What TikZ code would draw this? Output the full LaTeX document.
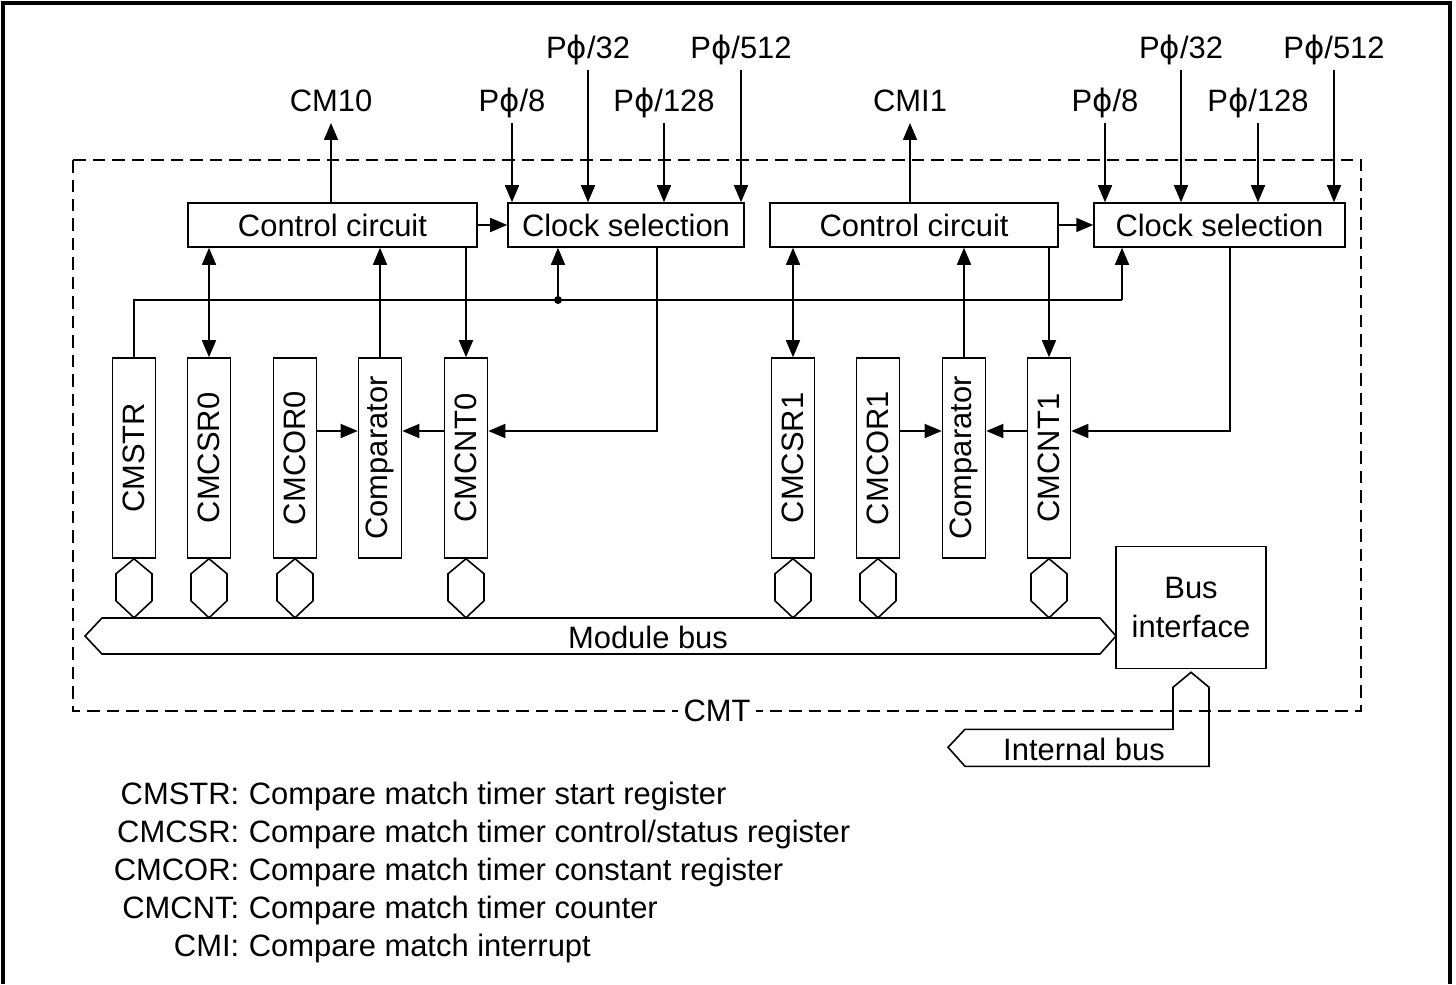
\documentclass[tikz,border=0pt]{standalone}
\usepackage{fontspec}
\setmainfont{Liberation Sans}
\newfontfamily\phifont{DejaVu Sans}
\usetikzlibrary{arrows.meta}
\newcommand{\Pphi}{P{\phifont ϕ}}

\begin{document}
\begin{tikzpicture}[
  x=0.02cm, y=-0.02cm,
  line width=0.9pt,
  every node/.style={font=\fontsize{17.6pt}{21pt}\selectfont, inner sep=0pt},
  blk/.style={draw, line width=0.9pt, minimum height=0.88cm},
  reg/.style={draw, line width=0.9pt, minimum width=0.86cm, minimum height=4cm},
  sig/.style={text height=0.44cm, text depth=0cm, outer ysep=0.24cm},
  arr/.style={-{Triangle[length=0.34cm,width=0.28cm]}},
  darr/.style={{Triangle[length=0.34cm,width=0.28cm]}-{Triangle[length=0.34cm,width=0.28cm]}}
]

  \useasboundingbox (0,0) rectangle (1456,984);

  % Marco exterior
  \draw[line width=2.8pt] (3,984) -- (3,3) -- (1450,3) -- (1450,984);

  % Bloque CMT
  \draw[dash pattern=on 0.25cm off 0.14cm] (73,160) rectangle (1361,711);
  \node[fill=white, inner xsep=0.12cm, inner ysep=0.05cm] (cmt) at (717,711) {CMT};

  % Circuitos de control y seleccion de reloj
  \node[blk, minimum width=5.78cm] (ctrl0) at (332.5,225) {Control circuit};
  \node[blk, minimum width=4.72cm] (clk0) at (626,225) {Clock selection};
  \node[blk, minimum width=5.76cm] (ctrl1) at (914,225) {Control circuit};
  \node[blk, minimum width=5.02cm] (clk1) at (1219.5,225) {Clock selection};

  \draw[arr] (ctrl0.east) -- (clk0.west);
  \draw[arr] (ctrl1.east) -- (clk1.west);

  % Registros
  \node[reg] (cmstr) at (134,458) {\rotatebox{90}{CMSTR}};
  \node[reg] (cmcsr0) at (209,458) {\rotatebox{90}{CMCSR0}};
  \node[reg] (cmcor0) at (295,458) {\rotatebox{90}{CMCOR0}};
  \node[reg] (cmp0) at (380,458) {\rotatebox{90}{Comparator}};
  \node[reg] (cmcnt0) at (466,458) {\rotatebox{90}{CMCNT0}};
  \node[reg] (cmcsr1) at (793,458) {\rotatebox{90}{CMCSR1}};
  \node[reg] (cmcor1) at (878,458) {\rotatebox{90}{CMCOR1}};
  \node[reg] (cmp1) at (964,458) {\rotatebox{90}{Comparator}};
  \node[reg] (cmcnt1) at (1049,458) {\rotatebox{90}{CMCNT1}};

  % Senales de entrada y salida
  \node[sig] (cm10) at (331,100) {CM10};
  \node[sig] (p8a) at (512,100) {\Pphi/8};
  \node[sig] (p32a) at (588,47) {\Pphi/32};
  \node[sig] (p128a) at (664,100) {\Pphi/128};
  \node[sig] (p512a) at (741,47) {\Pphi/512};
  \node[sig] (cmi1) at (910,100) {CMI1};
  \node[sig] (p8b) at (1105,100) {\Pphi/8};
  \node[sig] (p32b) at (1181,47) {\Pphi/32};
  \node[sig] (p128b) at (1258,100) {\Pphi/128};
  \node[sig] (p512b) at (1334,47) {\Pphi/512};

  \draw[arr] (ctrl0.north -| cm10) -- (cm10.south);
  \draw[arr] (ctrl1.north -| cmi1) -- (cmi1.south);
  \foreach \s in {p8a,p32a,p128a,p512a}
    \draw[arr] (\s.south) -- (\s.south |- clk0.north);
  \foreach \s in {p8b,p32b,p128b,p512b}
    \draw[arr] (\s.south) -- (\s.south |- clk1.north);

  % Linea de CMSTR
  \coordinate (jn) at (558,300);
  \coordinate (tap1) at (1122,300);
  \draw (cmstr.north) |- (tap1);
  \draw[arr] (tap1) -- (tap1 |- clk1.south);
  \draw[arr] (jn) -- (jn |- clk0.south);
  \fill (jn) circle (0.08cm);

  % Registros hacia el control
  \draw[darr] (cmcsr0.north) -- (cmcsr0.north |- ctrl0.south);
  \draw[arr] (cmp0.north) -- (cmp0.north |- ctrl0.south);
  \draw[arr] (ctrl0.south -| cmcnt0.north) -- (cmcnt0.north);
  \draw[darr] (cmcsr1.north) -- (cmcsr1.north |- ctrl1.south);
  \draw[arr] (cmp1.north) -- (cmp1.north |- ctrl1.south);
  \draw[arr] (ctrl1.south -| cmcnt1.north) -- (cmcnt1.north);

  % Reloj hacia los contadores y comparadores
  \coordinate (ck0) at (657,431);
  \coordinate (ck1) at (1230,431);
  \draw[arr] (ck0 |- clk0.south) -- (ck0) -- (cmcnt0.east |- ck0);
  \draw[arr] (ck1 |- clk1.south) -- (ck1) -- (cmcnt1.east |- ck1);
  \draw[arr] (cmcor0.east |- ck0) -- (cmp0.west |- ck0);
  \draw[arr] (cmcnt0.west |- ck0) -- (cmp0.east |- ck0);
  \draw[arr] (cmcor1.east |- ck1) -- (cmp1.west |- ck1);
  \draw[arr] (cmcnt1.west |- ck1) -- (cmp1.east |- ck1);

  % Conectores al bus de modulo
  \foreach \r in {cmstr,cmcsr0,cmcor0,cmcnt0,cmcsr1,cmcor1,cmcnt1}
    \draw (\r.south) -- ++(18,15) -- ++(0,27) -- ++(-18,17) -- ++(-18,-17) -- ++(0,-27) -- cycle;

  % Bus de modulo
  \draw (85,636) -- (102,618) -- (1100,618) -- (1116,636) -- (1100,654) -- (102,654) -- cycle;
  \node (mbus) at (648,637) {Module bus};

  % Interfaz de bus y bus interno
  \node[draw, minimum width=3cm, minimum height=2.44cm, align=center,
        font=\fontsize{17.6pt}{0.8cm}\selectfont] (busif) at (1191,607.5) {Bus\\interface};
  \draw ([yshift=-0.06cm]busif.south) -- ++(-18,15) -- ++(0,42) -- ++(-208,0) -- ++(-17,18)
    -- ++(17,19) -- ++(244,0) -- ++(0,-79) -- cycle;
  \node (ibus) at (1084,749) {Internal bus};

  % Leyenda
  \foreach \y/\a/\d [count=\i] in {804/CMSTR/{Compare match timer start register},
      842/CMCSR/{Compare match timer control/status register},
      880/CMCOR/{Compare match timer constant register},
      918/CMCNT/{Compare match timer counter},
      956/CMI/{Compare match interrupt}} {
    \node[anchor=base east] (ab\i) at (240,\y) {\a:};
    \node[anchor=base west] (de\i) at (248,\y) {\d};
  }

\end{tikzpicture}
\end{document}
